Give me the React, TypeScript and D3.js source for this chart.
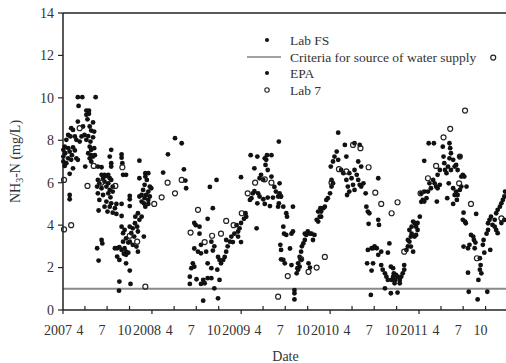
import React from "react";
import * as d3 from "d3";

// Values: [months since Jan 2007, NH3-N mg/L]
const labFS: [number, number][] = [
  [2.6,10.03],[2.1,9.62],[3.15,9.4],[3.5,9.4],[3.15,9.2],[3.5,9.25],[3.3,8.99],[2.0,8.88],[4.05,8.84],[1.1,8.57],[1.35,8.49],[2.7,8.65],[3.6,8.65],[3.8,8.46],[4.2,8.41],[0.7,8.25],[1.0,8.18],[1.6,8.18],[2.5,8.18],[2.9,8.25],[3.4,8.2],[4.05,8.14],[0.45,8.02],[1.8,8.02],[2.25,7.94],[3.15,8.02],[3.7,7.94],[0.23,7.7],[0.7,7.63],[1.35,7.67],[3.6,7.7],[3.8,7.55],[4.2,7.63],[0.05,7.55],[0.3,7.39],[0.9,7.47],[1.2,7.3],[1.6,7.52],[3.4,7.39],[3.8,7.3],[4.3,7.3],[0.05,7.23],[0.7,7.15],[1.1,7.08],[1.8,7.15],[2.0,7.08],[3.6,7.15],[4.05,7.23],[0.05,7.0],[0.45,6.92],[3.8,7.0],[0.23,6.79],[1.35,6.68],[3.0,6.76],[4.7,6.76],[5.2,6.73],[0.9,6.42],[0.9,5.42],[0.9,5.22],
  [7.9,7.34],[7.9,7.18],[6.3,7.23],[6.5,6.92],[8.0,6.92],[6.5,6.76],[5.2,6.37],[5.6,6.37],[5.85,6.32],[6.1,6.37],[5.4,6.21],[6.3,6.21],[8.1,6.37],[8.5,6.37],[4.7,6.13],[4.9,5.97],[5.6,6.05],[6.1,5.97],[6.5,6.13],[4.6,5.82],[5.2,5.74],[5.85,5.82],[6.3,5.66],[6.7,5.82],[4.7,5.5],[5.4,5.42],[6.1,5.5],[6.4,5.31],[6.7,5.58],[9.0,5.38],[9.0,5.22],[4.9,5.19],[5.85,5.11],[6.5,5.03],[7.2,5.0],[5.6,4.87],[6.3,4.87],[7.0,4.8],[4.8,4.69],[6.0,4.64],[6.7,4.59],[7.2,4.53],[7.9,5.0],[7.9,4.43],[9.0,4.9],[7.9,3.93],[8.3,3.77],[8.1,3.62],[9.0,3.93],[8.5,3.38],[8.8,3.18],[8.1,3.22],[5.2,3.3],[5.3,3.14],[4.6,2.91],[4.8,2.33],[7.0,2.91],[7.3,2.91],[7.6,2.96],[7.9,2.83],[8.3,2.91],[8.5,2.75],[8.2,2.65],[8.5,2.6],[8.8,2.7],[7.3,2.52],[7.6,2.36],[8.5,2.2],[9.0,1.86],[7.6,1.34],[9.1,1.23],[7.55,0.91],
  [10.3,6.21],[11.1,6.45],[11.5,6.45],[11.1,6.29],[11.3,6.13],[10.3,5.35],[11.0,5.9],[11.7,5.82],[10.8,5.66],[11.5,5.58],[11.9,5.74],[10.6,5.42],[11.0,5.27],[11.2,5.42],[11.7,5.35],[11.5,5.19],[10.6,5.11],[10.9,5.03],[11.1,4.87],[11.5,5.0],[10.1,4.56],[10.6,4.4],[10.3,4.25],[9.75,4.4],[9.7,4.09],[10.0,3.93],[9.4,3.85],[10.1,3.7],[9.2,3.62],[9.6,3.46],[10.9,3.46],[9.0,3.22],[9.4,3.07],[9.9,2.99],[10.1,2.75],[13.5,6.48],[14.15,7.34],
  [16.3,6.63],[16.5,6.1],[16.6,5.74],
  [20.2,4.8],[17.7,4.1],[17.9,4.0],[18.4,3.93],[19.5,4.3],[18.4,3.6],[17.7,2.9],[18.2,2.75],[18.6,2.67],[19.3,2.75],[20.2,2.8],[20.4,3.0],[20.0,3.22],[18.6,3.07],[22.0,3.3],[22.5,3.22],[22.7,3.46],[23.1,3.6],[23.6,3.7],[23.8,3.85],[23.4,4.0],[24.0,4.1],[24.4,4.3],[24.6,4.56],[24.7,4.4],[22.2,3.0],[22.0,2.75],[21.8,2.5],[21.6,2.36],[21.3,2.2],[20.9,2.5],[21.1,2.36],[17.5,2.2],[17.7,2.04],[17.3,1.97],[19.5,2.2],[17.1,1.57],[18.0,1.45],[18.9,1.42],[19.5,1.5],[20.0,1.5],[21.1,1.42],[19.1,1.26],[17.1,1.23],[18.6,1.23],[20.4,1.02],[20.8,1.9],[20.0,1.97],[24.0,3.2],[23.6,3.46],[22.9,3.2],
  [25.4,5.27],[25.2,5.19],[25.8,5.6],[26.3,5.5],[26.5,5.35],[27.0,5.22],[27.6,5.3],[28.3,5.3],[29.0,5.35],[29.4,5.35],[26.2,5.03],[27.2,5.0],[27.9,4.9],[29.0,4.87],[25.6,5.5],[25.8,6.68],[26.7,6.37],[27.0,6.13],[26.5,6.21],[27.3,6.84],[27.6,6.6],[27.4,7.08],[28.1,6.29],[28.5,5.8],[28.7,5.58],[25.3,7.3],[26.2,7.23],[27.2,7.15],[28.1,7.3],[27.5,7.3],[29.3,3.07],[29.4,2.39],
  [29.2,5.97],[29.2,5.5],[29.35,5.35],[29.1,5.03],[29.7,4.87],[30.1,4.56],[30.2,4.4],[31.0,4.87],[29.7,3.93],[29.8,3.6],[30.1,3.54],[30.8,3.6],[31.0,3.7],[29.4,2.83],[29.7,2.36],[29.9,2.2],[30.6,2.9],[30.8,2.12],[31.2,0.94],[31.2,0.79],[31.5,1.73],[31.6,1.97],[31.7,2.2],[31.9,2.5],[32.1,2.75],[32.2,3.0],[32.4,3.14],[32.6,3.3],[32.8,3.54],[33.0,3.7],[32.6,3.6],[33.3,3.6],[33.5,3.6],[33.9,3.54],[33.7,3.3],[31.7,1.9],[31.9,2.04],[32.1,2.36],[33.3,2.0],[33.1,2.2],
  [34.2,4.25],[34.4,4.17],[34.6,4.4],[34.8,4.64],[35.1,4.8],[35.3,4.87],[35.5,5.19],[35.7,5.27],[36.0,5.5],[36.2,5.82],[36.4,5.97],[36.2,6.13],[34.4,4.64],[34.8,4.4],[34.7,4.8],[36.1,6.76],[36.4,7.0],[36.6,7.23],[37.1,7.08],[36.9,7.47],[37.5,6.6],[37.8,6.45],[38.2,6.13],[38.4,5.82],[38.3,5.42],[38.0,7.78],[38.2,7.23],[38.6,6.45],[38.9,6.21],[39.3,7.86],[40.0,7.78],[39.3,6.6],[39.6,6.37],[39.8,6.13],[40.0,5.9],[40.2,5.82],[40.5,5.97],[39.1,5.9],[39.3,5.66],[38.6,5.58],[39.8,7.0],[40.2,6.76],[40.8,5.5],[40.9,4.87],[41.1,4.64],[41.3,4.56],[41.2,4.06],[42.5,4.25],[42.6,4.01],[42.5,2.6],[42.0,3.0],[41.8,2.91],[42.3,2.91],[41.1,2.83],[41.6,2.91],[42.9,2.75],[43.8,2.7],[41.0,2.2],[41.8,2.2],[41.6,1.86],[42.9,2.12],[43.1,1.9],[43.4,1.73],[43.6,1.57],[43.8,1.42],[44.3,1.42],[43.4,1.02],[44.5,1.57],
  [44.0,3.14],[44.2,2.04],[44.5,1.97],[44.6,1.73],[44.9,1.65],[45.1,1.57],[44.8,1.42],[45.4,1.42],[45.6,1.57],[45.8,1.73],[46.0,1.9],[46.0,2.12],[44.7,1.26],[45.4,1.26],[46.3,2.83],[46.5,3.0],[46.7,3.22],[46.9,2.99],[47.2,2.75],[46.9,3.46],[47.0,3.6],[47.4,3.46],[47.6,3.54],[47.8,3.77],[47.6,3.93],[47.4,4.1],[47.2,4.17],[47.8,4.1],[48.1,4.4],[47.0,3.93],[46.5,3.3],[46.7,3.77],[48.3,5.1],[48.5,5.19],[48.7,5.11],[49.0,5.27],[48.3,5.5],[48.7,5.58],[49.2,5.58],[49.4,5.97],[49.6,5.74],[49.9,6.13],[50.1,5.97],[50.5,5.74],[50.8,5.9],[50.3,5.82],[50.5,6.37],[50.8,6.6],[50.4,5.11],[51.2,7.7],[51.3,7.23],[51.4,6.92],[51.5,6.6],[51.7,6.45],[52.1,7.86],[52.2,7.63],[52.3,7.39],[52.1,7.15],[51.9,6.76],[52.3,6.6],[52.6,7.08],[52.8,6.76],[53.2,6.6],[53.0,6.84],[53.5,7.23],[52.0,5.97],[52.6,5.74],[52.8,5.42],[53.0,5.58],[53.2,5.42],[53.5,5.66],[53.7,5.82],[53.9,6.37],[54.1,6.29],[53.7,6.29],[51.8,5.27],[52.6,5.0],[53.1,5.19],[54.4,5.82],[54.0,4.59],[53.9,4.25],[54.2,4.17],[54.3,4.09],[54.0,2.99],[54.6,2.91],[54.8,3.07],[55.0,3.54],[55.3,3.46],[55.4,3.3],[55.6,3.18],[55.5,2.91],[55.7,4.53],[54.6,1.76],[56.2,2.44],[56.3,2.12],[56.2,1.9],[56.0,1.42],[56.4,1.73],[56.6,3.07],[56.7,3.3],[57.1,3.6],[57.3,3.77],[57.3,4.09],[57.5,4.25],[57.7,4.4],[57.9,4.01],[58.2,4.25],[58.4,4.56],[58.6,4.72],[58.9,4.87],[59.1,5.03],[59.3,5.19],[59.5,5.35],[59.6,5.58],[56.8,2.7],[57.6,2.83],[58.4,3.77],[58.6,3.62],[59.1,4.1],[59.5,4.25],[58.2,3.93]
];

const epa: [number, number][] = [
  [2.0,10.03],[4.4,10.03],[6.5,7.55],[10.3,7.04],[15.1,8.1],[16.0,7.86],[19.8,5.8],[20.7,6.13],[24.0,6.26],[26.1,3.85],[29.1,7.94],[31.2,0.5],[37.1,8.36],[42.5,6.21],[41.5,0.71],[48.7,7.03],[49.3,7.86],[50.0,7.86],[54.7,0.86],[55.9,0.5],[57.2,0.86],[44.2,0.79],[45.1,0.82],[18.9,0.44],[20.9,0.55]
];

const lab7: [number, number][] = [
  [0.14,6.13],[2.25,8.57],[4.14,6.79],[3.3,5.85],[1.1,4.0],[0.14,3.8],[8.0,6.73],[5.17,6.0],[7.06,5.85],[11.1,1.1],[9.0,3.5],[10.0,3.22],[12.3,5.0],[13.3,5.31],[14.1,6.0],[16.0,6.13],[15.1,5.5],[18.2,4.72],[17.2,3.65],[19.1,3.2],[20.1,3.5],[21.3,3.6],[22.0,4.2],[23.0,4.0],[24.1,4.56],[24.9,5.5],[25.9,6.0],[27.2,6.16],[28.1,6.0],[29.0,0.63],[30.3,1.6],[32.1,2.4],[33.1,1.8],[34.2,2.0],[35.3,2.5],[36.2,6.0],[37.2,6.64],[38.2,6.53],[39.1,7.78],[40.1,7.63],[41.2,6.73],[42.1,5.53],[42.9,5.0],[44.3,4.56],[45.1,5.08],[46.0,2.75],[48.2,5.5],[49.2,6.21],[50.3,6.79],[51.3,8.14],[52.2,8.54],[53.5,7.23],[53.4,5.97],[54.2,9.4],[55.0,5.0],[55.8,2.44],[59.1,4.32],[58.0,11.9]
];

const criteria = 1;
const yTicks = [0, 2, 4, 6, 8, 10, 12, 14];
const legendLabels = ["Lab FS", "Criteria for source of water supply", "EPA", "Lab 7"];

const W = 506, H = 363;
const FONT = "'Liberation Serif', 'Times New Roman', serif";
const base = new Date(2007, 0, 1).getTime();
const toDate = (m: number) => new Date(base + m * 30.4375 * 864e5);

export default function App() {
  const x = d3.scaleTime().domain([new Date(2007, 0, 1), new Date(2012, 0, 1)]).range([63, 508]);
  const y = d3.scaleLinear().domain([0, 14]).range([310, 13]);
  const xTicks = d3.timeMonth.every(3)!.range(new Date(2007, 0, 1), new Date(2011, 11, 31));
  const axisColor = "#222";
  return (
    <svg width={W} height={H} style={{ position: "absolute", left: 0, top: 0, background: "#fff" }} fontFamily={FONT}>
      {/* criteria line */}
      <line x1={x.range()[0]} x2={W} y1={y(criteria)} y2={y(criteria)} stroke="#8a8a8a" strokeWidth={2} />
      {/* axes */}
      <line x1={63} x2={63} y1={y(14)} y2={y(0)} stroke={axisColor} strokeWidth={1.5} />
      <line x1={63} x2={W} y1={y(0)} y2={y(0)} stroke={axisColor} strokeWidth={1.5} />
      <line x1={63} x2={W} y1={y(14)} y2={y(14)} stroke={axisColor} strokeWidth={1.5} />
      {yTicks.map((t) => (
        <g key={t}>
          <line x1={58} x2={63} y1={y(t)} y2={y(t)} stroke={axisColor} strokeWidth={1.2} />
          <text x={54} y={y(t)} dy="0.35em" textAnchor="end" fontSize={14} fill="#333">{t}</text>
        </g>
      ))}
      {xTicks.map((d) => {
        const isYear = d.getMonth() === 0;
        const xp = x(d);
        return (
          <g key={d.getTime()}>
            <line x1={xp} x2={xp} y1={y(0)} y2={isYear ? y(0) + 4 : y(0) - 4} stroke={axisColor} strokeWidth={1.2} />
            <text x={xp - 5} y={335} textAnchor="middle" fontSize={14} fill="#333">
              {isYear ? d.getFullYear() : d.getMonth() + 1}
            </text>
          </g>
        );
      })}
      <text x={285.5} y={361} textAnchor="middle" fontSize={14} fill="#333">Date</text>
      <text transform={`translate(19.5,${(y(0) + y(14)) / 2}) rotate(-90)`} textAnchor="middle" fontSize={14} fill="#333">
        NH<tspan dy={3} fontSize={10}>3</tspan><tspan dy={-3}>-N (mg/L)</tspan>
      </text>
      {/* points */}
      {labFS.map(([m, v], i) => (
        <circle key={"f" + i} cx={x(toDate(m))} cy={y(v)} r={2.4} fill="#111" />
      ))}
      {epa.map(([m, v], i) => (
        <circle key={"e" + i} cx={x(toDate(m))} cy={y(v)} r={2.4} fill="#111" />
      ))}
      {lab7.map(([m, v], i) => (
        <circle key={"l" + i} cx={x(toDate(m))} cy={y(v)} r={2.5} fill="none" stroke="#222" strokeWidth={1.2} />
      ))}
      {/* legend */}
      <g fontSize={13.5} fill="#333">
        <circle cx={267} cy={40} r={2} fill="#111" />
        <text x={290} y={40} dy="0.35em">{legendLabels[0]}</text>
        <line x1={247} x2={281} y1={57} y2={57} stroke="#444" strokeWidth={1.2} />
        <text x={290} y={57} dy="0.35em">{legendLabels[1]}</text>
        <circle cx={267} cy={73} r={2} fill="#111" />
        <text x={290} y={73} dy="0.35em">{legendLabels[2]}</text>
        <circle cx={267} cy={90} r={2.2} fill="none" stroke="#222" strokeWidth={1.1} />
        <text x={290} y={90} dy="0.35em">{legendLabels[3]}</text>
      </g>
    </svg>
  );
}
